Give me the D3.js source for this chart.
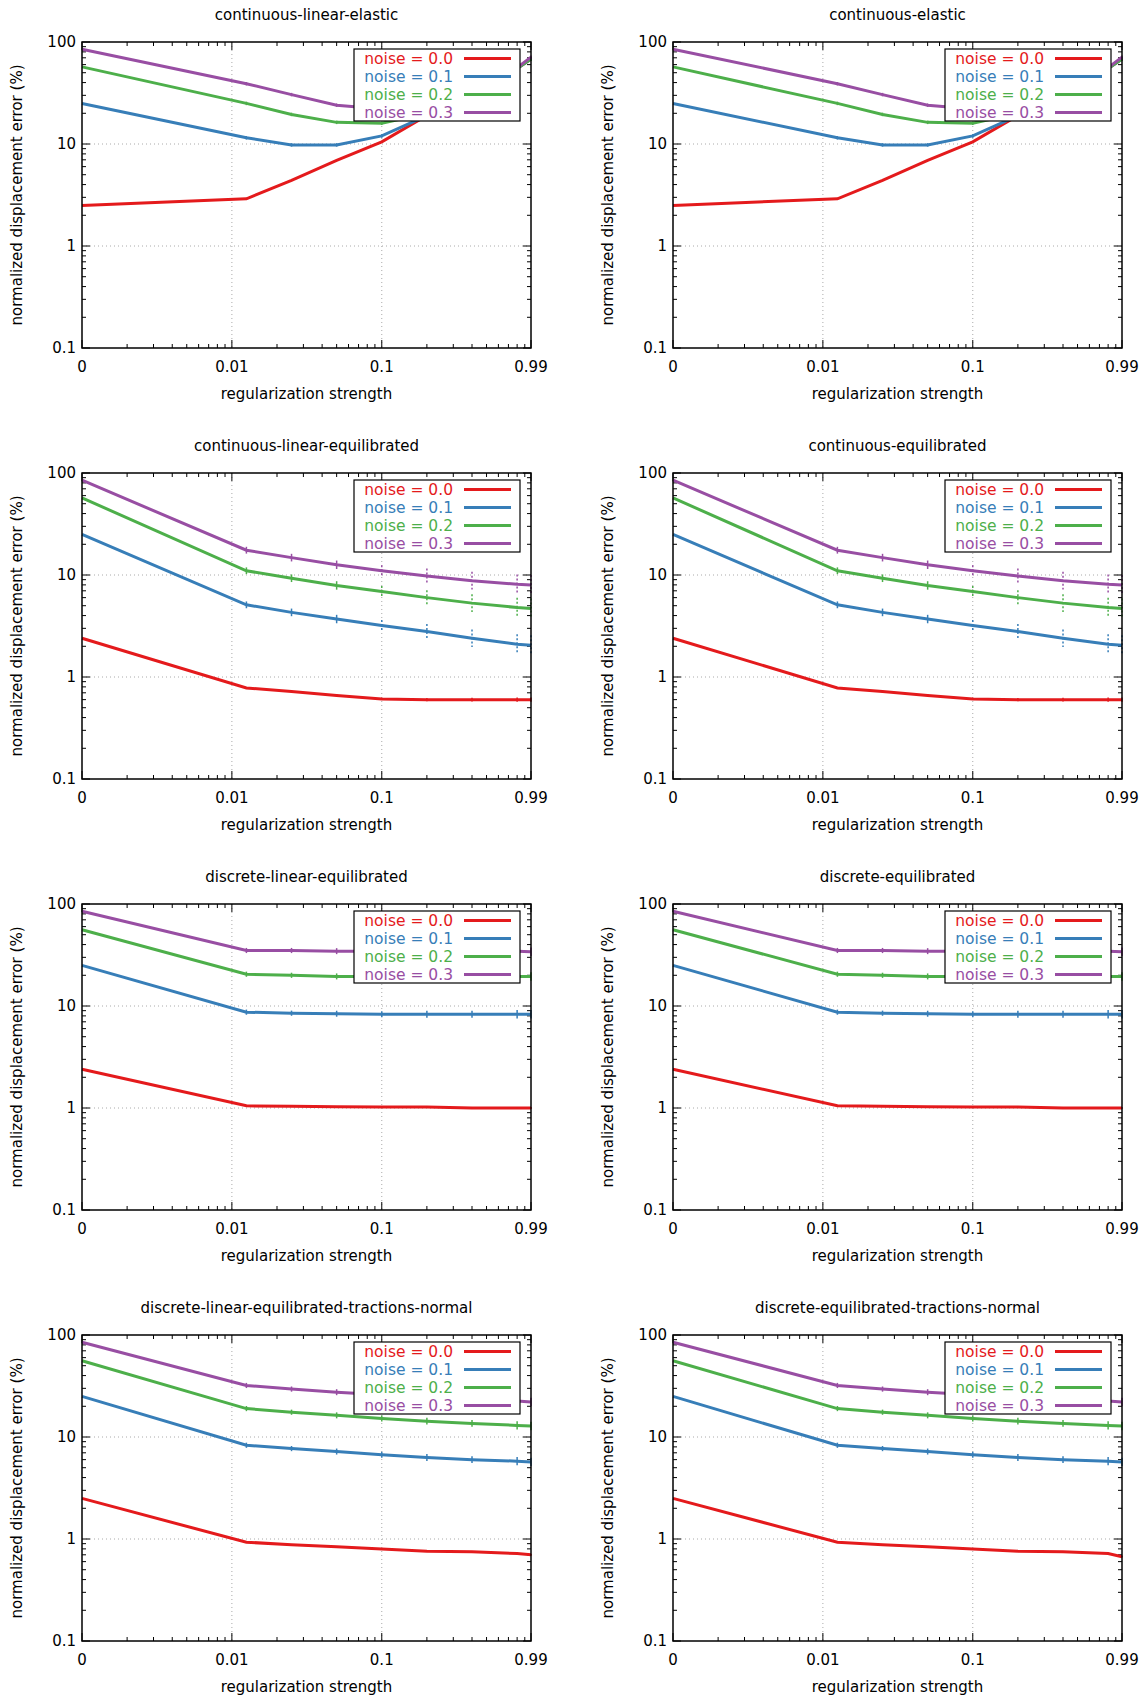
<!DOCTYPE html>
<html>
<head>
<meta charset="utf-8">
<script src="https://cdn.jsdelivr.net/npm/d3@7"></script>
<style>
  body { margin: 0; background: #fff; }
  text { font-family: "DejaVu Sans", sans-serif; }
</style>
</head>
<body>
<svg id="chart" width="1148" height="1701"></svg>
<script>
// regularization strengths (0 is drawn at the 0.001 position)
var strengths = [0, 0.0125, 0.025, 0.05, 0.1, 0.2, 0.4, 0.8, 0.99]
var noiseLabels = ["noise = 0.0", "noise = 0.1", "noise = 0.2", "noise = 0.3"]
var xTickValues = [0, 0.01, 0.1, 0.99]
var yTickValues = [0.1, 1, 10, 100]

var titles = [
    "continuous-linear-elastic", "continuous-elastic",
    "continuous-linear-equilibrated", "continuous-equilibrated",
    "discrete-linear-equilibrated", "discrete-equilibrated",
    "discrete-linear-equilibrated-tractions-normal", "discrete-equilibrated-tractions-normal"
]

// errors (%) per noise level, one array per panel group
var elasticRed    = [2.5, 2.9, 4.4, 6.9, 10.5, 19, 35, 55, 68]
var elasticBlue   = [25, 11.5, 9.8, 9.8, 12, 19, 35, 55, 68]
var elasticGreen  = [57, 25, 19.5, 16.3, 16, 20, 35, 55, 68]
var elasticPurple = [85, 39, 30.5, 24, 22, 25, 37, 56, 71]

var contEqRed    = [2.4, 0.78, 0.72, 0.66, 0.61, 0.6, 0.6, 0.6, 0.6]
var contEqBlue   = [25, 5.1, 4.3, 3.7, 3.2, 2.8, 2.4, 2.1, 2.05]
var contEqGreen  = [57, 11, 9.3, 7.9, 6.9, 6.0, 5.3, 4.8, 4.7]
var contEqPurple = [85, 17.5, 14.8, 12.6, 11, 9.8, 8.8, 8.1, 8.0]

var discEqRed    = [2.4, 1.05, 1.04, 1.03, 1.02, 1.02, 1.0, 1.0, 1.0]
var discEqBlue   = [25, 8.7, 8.5, 8.4, 8.3, 8.3, 8.3, 8.3, 8.3]
var discEqGreen  = [56, 20.5, 20, 19.5, 19.5, 19.5, 19.5, 19.5, 19.5]
var discEqPurple = [85, 35, 35, 34.5, 34.5, 34.5, 34.5, 34.5, 34]

var tracRed    = [2.5, 0.93, 0.88, 0.84, 0.8, 0.76, 0.75, 0.72, 0.7]
var tracRed2   = [2.5, 0.93, 0.88, 0.84, 0.8, 0.76, 0.75, 0.72, 0.67]
var tracBlue   = [25, 8.3, 7.7, 7.2, 6.7, 6.3, 6.0, 5.8, 5.7]
var tracGreen  = [56, 19, 17.5, 16.3, 15.2, 14.3, 13.6, 13, 12.8]
var tracPurple = [85, 32, 29.5, 27.5, 26, 24.5, 23.5, 22.5, 22]

// relative error-bar half sizes
var errSmall = [0, 0.04, 0.04, 0.04, 0.04, 0.04, 0.04, 0.04, 0.04]
var errMid   = [0, 0.06, 0.06, 0.07, 0.07, 0.08, 0.08, 0.1, 0.1]
var errLarge = [0, 0.08, 0.09, 0.1, 0.13, 0.18, 0.22, 0.25, 0.25]

var panels = [
    { series: [elasticRed, elasticBlue, elasticGreen, elasticPurple], err: errSmall },
    { series: [elasticRed, elasticBlue, elasticGreen, elasticPurple], err: errSmall },
    { series: [contEqRed, contEqBlue, contEqGreen, contEqPurple], err: errLarge },
    { series: [contEqRed, contEqBlue, contEqGreen, contEqPurple], err: errLarge },
    { series: [discEqRed, discEqBlue, discEqGreen, discEqPurple], err: errMid },
    { series: [discEqRed, discEqBlue, discEqGreen, discEqPurple], err: errMid },
    { series: [tracRed, tracBlue, tracGreen, tracPurple], err: errMid },
    { series: [tracRed2, tracBlue, tracGreen, tracPurple], err: errMid }
]

var colors = ["#e41a1c", "#377eb8", "#4daf4a", "#984ea3"]

var svg = d3.select("#chart")
var plotW = 449, plotH = 306
var colX = [82, 673], rowY = 42, rowStep = 431

var x = d3.scaleLog().domain([0.001, 0.99]).range([0, plotW])
var y = d3.scaleLog().domain([0.1, 100]).range([plotH, 0])
var xv = function(v) { return v === 0 ? 0.001 : v }

var xMinor = [], yMinor = []
;[0.001, 0.01, 0.1].forEach(function(d) {
    for (var k = 2; k <= 9; k++) if (d * k < 0.99) xMinor.push(d * k)
})
;[0.1, 1, 10].forEach(function(d) {
    for (var k = 2; k <= 9; k++) yMinor.push(d * k)
})

panels.forEach(function(p, i) {
    var col = i % 2, row = Math.floor(i / 2)
    var g = svg.append("g")
               .attr("transform", "translate(" + colX[col] + "," + (rowY + row * rowStep) + ")")

    // grid
    ;[0.01, 0.1].forEach(function(v) {
        g.append("line").attr("x1", x(v)).attr("x2", x(v)).attr("y1", 0).attr("y2", plotH)
         .attr("stroke", "#aaa").attr("stroke-dasharray", "1,3")
    })
    ;[1, 10].forEach(function(v) {
        g.append("line").attr("x1", 0).attr("x2", plotW).attr("y1", y(v)).attr("y2", y(v))
         .attr("stroke", "#aaa").attr("stroke-dasharray", "1,3")
    })

    // ticks on all four sides
    var tk = function(xs, len, axis) {
        xs.forEach(function(v) {
            if (axis === "x") {
                var px = x(xv(v))
                g.append("line").attr("x1", px).attr("x2", px).attr("y1", plotH).attr("y2", plotH - len).attr("stroke", "#000")
                g.append("line").attr("x1", px).attr("x2", px).attr("y1", 0).attr("y2", len).attr("stroke", "#000")
            } else {
                var py = y(v)
                g.append("line").attr("x1", 0).attr("x2", len).attr("y1", py).attr("y2", py).attr("stroke", "#000")
                g.append("line").attr("x1", plotW).attr("x2", plotW - len).attr("y1", py).attr("y2", py).attr("stroke", "#000")
            }
        })
    }
    tk(xTickValues, 8, "x"); tk(xMinor, 4, "x")
    tk(yTickValues, 8, "y"); tk(yMinor, 4, "y")

    g.selectAll(".xt").data(xTickValues).enter().append("text")
     .attr("x", function(d) { return x(xv(d)) }).attr("y", plotH + 24)
     .attr("text-anchor", "middle").attr("font-size", 15).text(function(d) { return d })
    g.selectAll(".yt").data(yTickValues).enter().append("text")
     .attr("x", -6).attr("y", function(d) { return y(d) + 5 })
     .attr("text-anchor", "end").attr("font-size", 15).text(function(d) { return d })

    g.append("text").attr("x", plotW / 2).attr("y", -22).attr("text-anchor", "middle")
     .attr("font-size", 15).text(titles[i])
    g.append("text").attr("x", plotW / 2).attr("y", plotH + 51).attr("text-anchor", "middle")
     .attr("font-size", 15).text("regularization strength")
    g.append("text").attr("transform", "translate(-60," + (plotH / 2) + ") rotate(-90)")
     .attr("text-anchor", "middle").attr("font-size", 15).text("normalized displacement error (%)")

    var line = d3.line()
                 .x(function(d, j) { return x(xv(strengths[j])) })
                 .y(function(d) { return y(d) })

    p.series.forEach(function(s, si) {
        g.append("path").datum(s).attr("d", line).attr("fill", "none")
         .attr("stroke", colors[si]).attr("stroke-width", 3)
        s.forEach(function(v, j) {
            if (j === 0) return
            var e = p.err[j] * (si === 0 ? 0.2 : 1)
            var px = x(xv(strengths[j]))
            g.append("line").attr("x1", px).attr("x2", px)
             .attr("y1", y(v * (1 + e))).attr("y2", y(v / (1 + e)))
             .attr("stroke", colors[si]).attr("stroke-width", 1.5)
             .attr("stroke-dasharray", e > 0.12 ? "2,2" : null)
        })
    })

    // border
    g.append("rect").attr("width", plotW).attr("height", plotH)
     .attr("fill", "none").attr("stroke", "#000").attr("stroke-width", 1.5)

    // legend
    var lg = g.append("g").attr("transform", "translate(" + (plotW - 177) + ",7)")
    lg.append("rect").attr("width", 166).attr("height", 72)
      .attr("fill", "#fff").attr("stroke", "#000").attr("stroke-width", 1.2)
    noiseLabels.forEach(function(lab, li) {
        var ly = 9.5 + li * 18
        lg.append("text").attr("x", 99).attr("y", ly + 5.5).attr("text-anchor", "end")
          .attr("font-size", 15.5).attr("fill", colors[li]).text(lab)
        lg.append("line").attr("x1", 110).attr("x2", 157).attr("y1", ly).attr("y2", ly)
          .attr("stroke", colors[li]).attr("stroke-width", 3)
    })
})
</script>
</body>
</html>
